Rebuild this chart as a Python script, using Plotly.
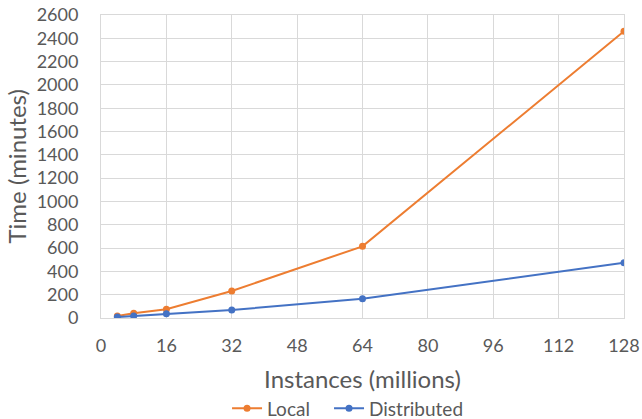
import plotly.graph_objects as go

instances = [4, 8, 16, 32, 64, 128]
local_minutes = [17, 40, 75, 232, 615, 2460]
distributed_minutes = [8, 17, 37, 69, 165, 475]
x_ticks = [0, 16, 32, 48, 64, 80, 96, 112, 128]
y_ticks = list(range(0, 2601, 200))

fig = go.Figure()
fig.add_trace(go.Scatter(x=instances, y=local_minutes, name="Local", mode="lines+markers",
                         line=dict(color="#ED7D31", width=2), marker=dict(size=7, color="#ED7D31"),
                         legend="legend"))
fig.add_trace(go.Scatter(x=instances, y=distributed_minutes, name="Distributed", mode="lines+markers",
                         line=dict(color="#4472C4", width=2), marker=dict(size=7, color="#4472C4"),
                         legend="legend2"))

font = "Lato, 'Open Sans', sans-serif"
legend_common = dict(orientation="h", xanchor="left", y=-0.298, yanchor="middle",
                     font=dict(size=19, color="#595959"), itemwidth=30, bgcolor="rgba(0,0,0,0)")
fig.update_layout(
    width=642, height=419,
    margin=dict(l=101, r=18, t=15, b=101, autoexpand=False),
    plot_bgcolor="white", paper_bgcolor="white",
    font=dict(family=font, color="#595959", size=18),
    showlegend=True,
    legend=dict(x=0.241, **legend_common),
    legend2=dict(x=0.436, **legend_common),
    xaxis=dict(range=[0, 128], tickvals=x_ticks, showgrid=True, gridcolor="#D9D9D9",
               linecolor="#D9D9D9", showline=True, mirror=True, zeroline=False,
               ticks="", tickfont=dict(size=18, color="#595959"), automargin=False,
               ticklabelstandoff=11,
               title=dict(text="Instances (millions)", font=dict(size=24, color="#595959"), standoff=16)),
    yaxis=dict(range=[0, 2600], tickvals=y_ticks, showgrid=True, gridcolor="#D9D9D9",
               linecolor="#D9D9D9", showline=True, mirror=True, zeroline=False,
               ticks="", tickfont=dict(size=18, color="#595959"), automargin=False,
               ticklabelstandoff=18),
    annotations=[dict(text="Time (minutes)", textangle=-90, xref="paper", yref="paper",
                      x=(16 - 101) / 523, y=0.5, xanchor="center", yanchor="middle",
                      showarrow=False, font=dict(size=24, color="#595959", family=font))],
)
fig.write_html("out.html", config={"displayModeBar": False},
               post_script="document.body.style.margin='0';")
